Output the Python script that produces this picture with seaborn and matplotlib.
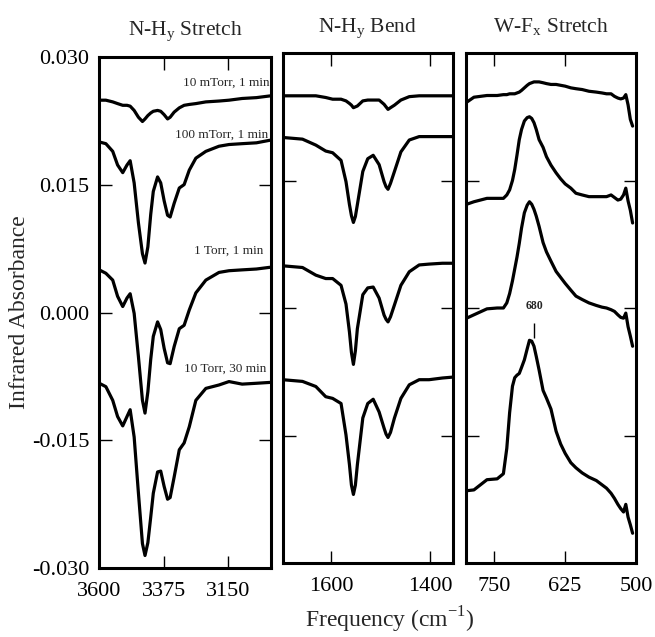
import numpy as np
import pandas as pd
import matplotlib
matplotlib.use("Agg")
import matplotlib.pyplot as plt
import seaborn as sns

# ---------------- data ----------------
conditions = ["10 mTorr, 1 min", "100 mTorr, 1 min", "1 Torr, 1 min", "10 Torr, 30 min"]
panel_titles = ["N-H$_\\mathregular{y}$ Stretch", "N-H$_\\mathregular{y}$ Bend", "W-F$_\\mathregular{x}$ Stretch"]

y_ticks = [-0.030, -0.015, 0.000, 0.015, 0.030]
y_tick_labels = ["-0.030", "-0.015", "0.000", "0.015", "0.030"]
stretch_ticks = [3600, 3375, 3150]
bend_ticks = [1600, 1400]
wf_ticks = [750, 625, 500]

# N-H stretch region
nh_x = [3600, 3577, 3553, 3536, 3518, 3503, 3492, 3478, 3463, 3449, 3440, 3430, 3420, 3411, 3396,
        3385, 3373, 3361, 3352, 3338, 3320, 3303, 3285, 3262, 3227, 3181, 3146, 3100, 3050, 3003]
nh_10mtorr = [0.0249, 0.0249, 0.0247, 0.0245, 0.0243, 0.0243, 0.0242, 0.0237, 0.0229, 0.0224, 0.0227, 0.0231,
              0.0234, 0.0236, 0.0237, 0.0236, 0.0232, 0.0227, 0.0229, 0.0235, 0.0240, 0.0243, 0.0244, 0.0245,
              0.0247, 0.0248, 0.0249, 0.0251, 0.0252, 0.0254]
nh_100mtorr = [0.0200, 0.0198, 0.0189, 0.0173, 0.0164, 0.0173, 0.0178, 0.0152, 0.0105, 0.0069, 0.0058, 0.0077,
               0.0115, 0.0142, 0.0159, 0.0152, 0.0131, 0.0114, 0.0112, 0.0128, 0.0146, 0.0150, 0.0167, 0.0181,
               0.0189, 0.0195, 0.0197, 0.0198, 0.0199, 0.0202]
nh_1torr = [0.0050, 0.0046, 0.0038, 0.0019, 0.0007, 0.0017, 0.0022, -0.0001, -0.0052, -0.0103, -0.0118, -0.0093,
            -0.0055, -0.0028, -0.0011, -0.0020, -0.0042, -0.0059, -0.0060, -0.0040, -0.0019, -0.0015, 0.0003, 0.0023,
            0.0038, 0.0047, 0.0049, 0.0050, 0.0051, 0.0053]
nh_10torr = [-0.0083, -0.0087, -0.0103, -0.0122, -0.0133, -0.0122, -0.0114, -0.0146, -0.0212, -0.0271, -0.0285, -0.0270,
             -0.0240, -0.0212, -0.0187, -0.0186, -0.0204, -0.0219, -0.0217, -0.0193, -0.0161, -0.0153, -0.0134, -0.0103,
             -0.0089, -0.0085, -0.0081, -0.0084, -0.0083, -0.0082]

# N-H bend region
bend_x = [1698, 1658, 1631, 1611, 1597, 1580, 1570, 1563, 1559, 1555, 1551, 1547, 1536, 1526, 1515,
          1503, 1493, 1489, 1485, 1480, 1472, 1459, 1442, 1422, 1402, 1375, 1355]
bend_10mtorr = [0.0250, 0.0250, 0.0250, 0.0248, 0.0246, 0.0246, 0.0244, 0.0241, 0.0239, 0.0236, 0.0237, 0.0238,
                0.0244, 0.0245, 0.0245, 0.0245, 0.0240, 0.0237, 0.0234, 0.0236, 0.0239, 0.0245, 0.0249, 0.0250,
                0.0250, 0.0250, 0.0250]
bend_100mtorr = [0.0201, 0.0199, 0.0192, 0.0185, 0.0183, 0.0174, 0.0149, 0.0122, 0.0109, 0.0101, 0.0108, 0.0122,
                 0.0161, 0.0176, 0.0180, 0.0169, 0.0149, 0.0143, 0.0140, 0.0147, 0.0161, 0.0184, 0.0198, 0.0202,
                 0.0202, 0.0202, 0.0202]
bend_1torr = [0.0050, 0.0048, 0.0039, 0.0035, 0.0035, 0.0027, 0.0005, -0.0028, -0.0052, -0.0066, -0.0050, -0.0024,
              0.0016, 0.0024, 0.0025, 0.0012, -0.0008, -0.0013, -0.0016, -0.0010, 0.0004, 0.0027, 0.0043, 0.0051,
              0.0052, 0.0053, 0.0053]
bend_10torr = [-0.0084, -0.0086, -0.0092, -0.0104, -0.0106, -0.0112, -0.0149, -0.0184, -0.0208, -0.0219, -0.0208, -0.0184,
               -0.0129, -0.0112, -0.0107, -0.0122, -0.0141, -0.0148, -0.0152, -0.0146, -0.0129, -0.0106, -0.0090, -0.0084,
               -0.0084, -0.0082, -0.0081]

# W-F stretch region
wf_x = [799, 786, 763, 745, 734, 728, 723, 718, 714, 710, 706, 702, 697, 692, 688, 684, 680, 676, 671, 664,
        658, 650, 641, 633, 625, 615, 606, 595, 583, 570, 560, 552, 544, 538, 532, 527, 522, 518, 514, 510, 506]
wf_10mtorr = [0.0242, 0.0248, 0.0250, 0.0250, 0.0251, 0.0251, 0.0252, 0.0252, 0.0252, 0.0253, 0.0254, 0.0256,
              0.0259, 0.0262, 0.0264, 0.0265, 0.0266, 0.0266, 0.0266, 0.0265, 0.0264, 0.0263, 0.0263, 0.0262,
              0.0261, 0.0259, 0.0258, 0.0257, 0.0255, 0.0254, 0.0253, 0.0252, 0.0252, 0.0249, 0.0247, 0.0246,
              0.0247, 0.0251, 0.0239, 0.0222, 0.0214]
wf_100mtorr = [0.0122, 0.0125, 0.0129, 0.0129, 0.0129, 0.0133, 0.0139, 0.0150, 0.0163, 0.0180, 0.0198, 0.0210,
               0.0220, 0.0224, 0.0225, 0.0223, 0.0218, 0.0210, 0.0198, 0.0189, 0.0178, 0.0168, 0.0159, 0.0152,
               0.0146, 0.0141, 0.0135, 0.0133, 0.0131, 0.0131, 0.0131, 0.0131, 0.0133, 0.0130, 0.0127, 0.0128,
               0.0133, 0.0141, 0.0126, 0.0115, 0.0100]
wf_1torr = [-0.0012, -0.0008, -0.0001, 0.0000, 0.0000, 0.0006, 0.0017, 0.0032, 0.0046, 0.0060, 0.0076, 0.0094,
            0.0112, 0.0121, 0.0125, 0.0122, 0.0116, 0.0108, 0.0096, 0.0077, 0.0066, 0.0055, 0.0043, 0.0036,
            0.0029, 0.0021, 0.0014, 0.0010, 0.0006, 0.0003, 0.0001, 0.0000, -0.0002, -0.0004, -0.0008, -0.0011,
            -0.0012, -0.0006, -0.0022, -0.0033, -0.0045]
wf_10torr = [-0.0215, -0.0214, -0.0202, -0.0201, -0.0195, -0.0165, -0.0123, -0.0092, -0.0082, -0.0079, -0.0077, -0.0070,
             -0.0061, -0.0048, -0.0038, -0.0039, -0.0045, -0.0057, -0.0073, -0.0097, -0.0106, -0.0119, -0.0145, -0.0160,
             -0.0171, -0.0182, -0.0188, -0.0194, -0.0199, -0.0203, -0.0208, -0.0212, -0.0218, -0.0224, -0.0231, -0.0236,
             -0.0240, -0.0231, -0.0246, -0.0255, -0.0265]

# annotation of the 680 cm-1 band
peak_label = "680"
peak_pos = 680
peak_label_y = 0.0002
peak_line_y = (-0.0018, -0.0035)

# labels of each trace in the first panel (right aligned)
label_y = [0.0270, 0.0208, 0.0073, -0.0066]
label_x = [3003, 3008, 3025, 3015]

# ---------------- styling ----------------
sns.set_style("ticks")
plt.rcParams["font.family"] = ["Liberation Serif", "DejaVu Serif"]
plt.rcParams["mathtext.fontset"] = "custom"
plt.rcParams["mathtext.rm"] = "Liberation Serif"

fig = plt.figure(figsize=(6.55, 6.37), dpi=100)
positions = [
    [99.3 / 655, 1 - 568.3 / 637, 171.4 / 655, 511.6 / 637],
    [282.7 / 655, 1 - 563.3 / 637, 170.6 / 655, 510.0 / 637],
    [466.0 / 655, 1 - 563.0 / 637, 170.0 / 655, 510.0 / 637],
]
axes = [fig.add_axes(p) for p in positions]

panels = [
    (nh_x, [nh_10mtorr, nh_100mtorr, nh_1torr, nh_10torr], (3600, 3000), stretch_ticks),
    (bend_x, [bend_10mtorr, bend_100mtorr, bend_1torr, bend_10torr], (1698, 1353), bend_ticks),
    (wf_x, [wf_10mtorr, wf_100mtorr, wf_1torr, wf_10torr], (800, 500), wf_ticks),
]

for i, (ax, (xs, series, xlim, xticks)) in enumerate(zip(axes, panels)):
    for cond, ys in zip(conditions, series):
        df = pd.DataFrame({"freq": xs, "abs": ys})
        line = sns.lineplot(data=df, x="freq", y="abs", ax=ax, color="black", lw=2.3,
                            estimator=None, sort=False)
    for ln in ax.get_lines():
        ln.set_solid_joinstyle("round")
        ln.set_solid_capstyle("round")
    ax.set_xlim(*xlim)
    ax.set_ylim(-0.030, 0.030)
    ax.set_xticks(xticks)
    ax.set_xticklabels([str(t) for t in xticks])
    ax.set_yticks(y_ticks)
    if i == 0:
        ax.set_yticklabels(y_tick_labels)
    else:
        ax.set_yticklabels([])
    ax.set_xlabel("")
    ax.set_ylabel("")
    ax.tick_params(direction="in", length=9, width=1.0, top=True, right=True,
                   labelsize=16, pad=7, colors="black")
    ax.tick_params(axis="x", pad=10)
    for s in ax.spines.values():
        s.set_visible(True)
        s.set_linewidth(2.2)
        s.set_color("black")
    ax.set_title(panel_titles[i], fontsize=15.5, pad=15)
    ax.set_facecolor("white")

# labels for traces
for txt, lx, ly in zip(conditions, label_x, label_y):
    axes[0].text(lx, ly, txt, ha="right", va="center", fontsize=9.5)

# 680 marker
axes[2].text(peak_pos, peak_label_y, peak_label, ha="center", va="center",
             fontsize=8.5, fontweight="bold")
axes[2].vlines(peak_pos, peak_line_y[1], peak_line_y[0], color="black", lw=1.0)

fig.text(20 / 655, 1 - 312 / 637, "Infrared Absorbance", rotation=90,
         ha="center", va="center", fontsize=17)
fig.text(390 / 655, 1 - 620 / 637, "Frequency (cm$^{-1}$)", ha="center",
         va="center", fontsize=17)

fig.savefig("out.png", dpi=100, facecolor="white")
